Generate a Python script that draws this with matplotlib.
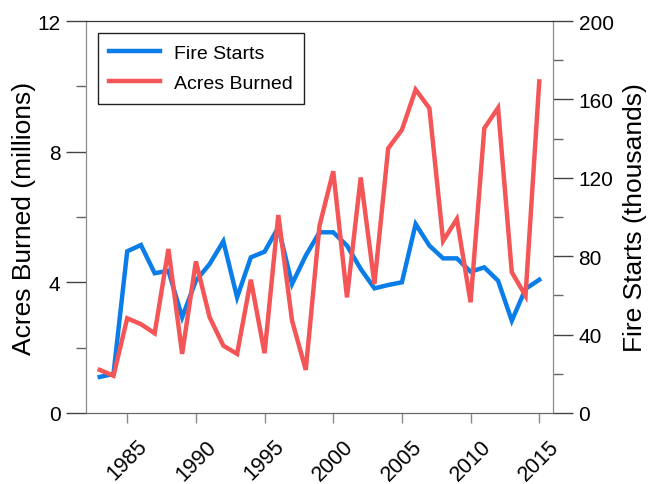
import matplotlib
matplotlib.use("Agg")
import matplotlib.pyplot as plt
from matplotlib.lines import Line2D

plt.rcParams['font.family'] = ['Liberation Sans', 'DejaVu Sans']

years = list(range(1983, 2016))
acres_burned = [1.32, 1.14, 2.90, 2.72, 2.44, 5.02, 1.81, 4.64, 2.93, 2.06, 1.81,
                4.08, 1.83, 6.06, 2.83, 1.32, 5.73, 7.40, 3.54, 7.21, 3.95, 8.10,
                8.67, 9.90, 9.33, 5.27, 5.94, 3.39, 8.72, 9.34, 4.31, 3.59, 10.15]
fire_starts = [18.4, 19.9, 82.5, 85.7, 71.3, 72.6, 48.8, 67.5, 76.0, 87.6, 59.0,
               79.4, 82.3, 94.7, 65.8, 80.3, 92.2, 92.2, 85.4, 73.5, 63.6, 65.3,
               66.7, 96.4, 85.4, 78.9, 78.9, 72.1, 74.3, 67.5, 47.1, 63.3, 68.0]
xticks = [1985, 1990, 1995, 2000, 2005, 2010, 2015]
left_major = [0, 4, 8, 12]
left_minor = [2, 6, 10]
right_major = [0, 40, 80, 120, 160, 200]
right_minor = [20, 60, 100, 140, 180]

blue = '#0a7de8'
red = '#f45557'
spine_gray = '#8a8a8a'

fig = plt.figure(figsize=(6.51, 4.85), dpi=100)
ax = fig.add_axes([86/651, 1-414/485, (553-86)/651, (414-22)/485])
ax2 = ax.twinx()
ax.set_zorder(ax2.get_zorder() + 1)
ax.patch.set_visible(False)

ax2.plot(years, fire_starts, color=blue, lw=3.2, solid_joinstyle='miter')
ax.plot(years, acres_burned, color=red, lw=3.2, solid_joinstyle='miter')

ax.set_xlim(1982, 2016)
ax.set_ylim(0, 12)
ax2.set_ylim(0, 200)

ax.set_xticks(xticks)
ax.set_xticklabels([str(x) for x in xticks], rotation=45, ha='center', fontsize=15.5)
ax.set_yticks(left_major)
ax.set_yticks(left_minor, minor=True)
ax2.set_yticks(right_major)
ax2.set_yticks(right_minor, minor=True)

ax.tick_params(axis='x', direction='out', length=7.2, width=1, color=spine_gray, pad=9)
ax.tick_params(axis='y', which='major', direction='out', length=14.4, width=1,
               color='#444444', labelsize=15, pad=4)
ax.tick_params(axis='y', which='minor', direction='out', length=7.2, width=1,
               color='#666666')
ax2.tick_params(axis='y', which='major', direction='out', length=14.4, width=1,
                color='#444444', labelsize=15, pad=4)
ax2.tick_params(axis='y', which='minor', direction='out', length=7.2, width=1,
                color='#666666')

for s in ['left', 'right', 'bottom']:
    ax.spines[s].set_color(spine_gray)
    ax2.spines[s].set_color(spine_gray)
ax.spines['top'].set_color('#333333')
ax2.spines['top'].set_color('#333333')
ax.spines['bottom'].set_color('#666666')

ax.set_ylabel('Acres Burned (millions)', fontsize=19, va='center')
ax2.set_ylabel('Fire Starts (thousands)', fontsize=19, va='center')
ax.yaxis.set_label_coords((24 - 86) / 467, 0.5)
ax2.yaxis.set_label_coords((635 - 86) / 467, 0.5)

handles = [Line2D([], [], color=blue, lw=3.2), Line2D([], [], color=red, lw=3.2)]
leg = ax.legend(handles, ['Fire Starts', 'Acres Burned'], loc='upper left',
                fontsize=14, frameon=True, fancybox=False, edgecolor='#222222',
                framealpha=1, handlelength=2.6, handletextpad=0.7,
                borderaxespad=0.6, labelspacing=0.65, borderpad=0.6)
leg.get_frame().set_linewidth(1.0)

fig.savefig('out.png', dpi=100)
